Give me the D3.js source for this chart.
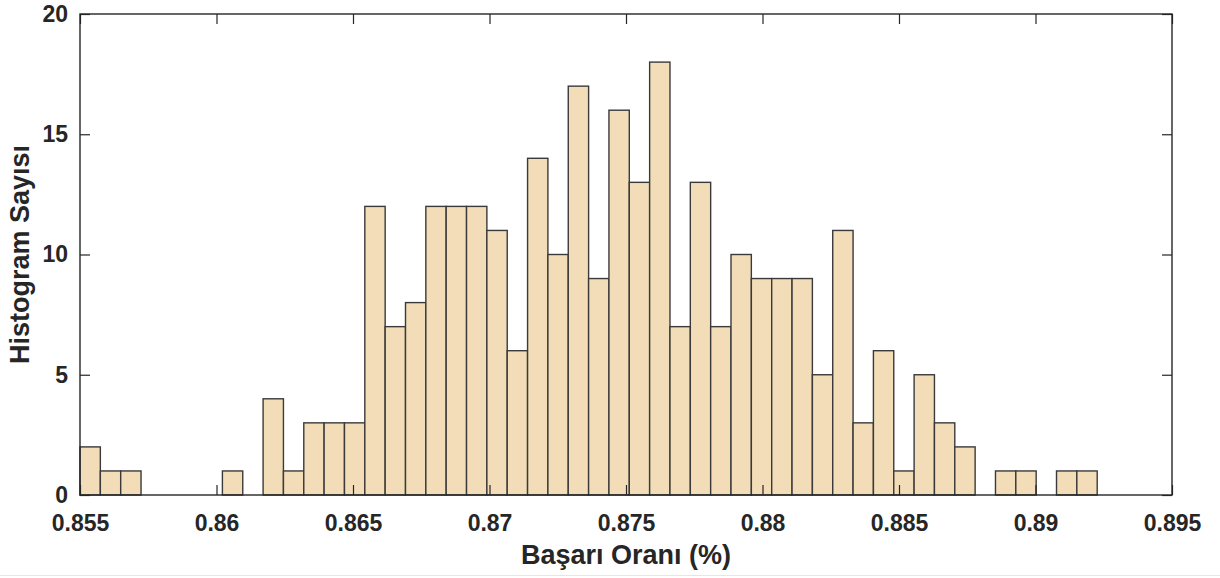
<!DOCTYPE html>
<html>
<head>
<meta charset="utf-8">
<script src="https://cdn.jsdelivr.net/npm/d3@7"></script>
<style>
  body { margin: 0; background: #fff; }
  svg text { font-family: "Liberation Sans", Arial, sans-serif; font-weight: bold; fill: #262626; }
</style>
</head>
<body>
<svg id="chart"></svg>
<script>
// histogram: 50 bins from min to max of the success rate
const binStart = 0.855
const binEnd = 0.89226
const counts = [2, 1, 1, 0, 0, 0, 0, 1, 0, 4,
                1, 3, 3, 3, 12, 7, 8, 12, 12, 12,
                11, 6, 14, 10, 17, 9, 16, 13, 18, 7,
                13, 7, 10, 9, 9, 9, 5, 11, 3, 6,
                1, 5, 3, 2, 0, 1, 1, 0, 1, 1]
const xTicks = [0.855, 0.86, 0.865, 0.87, 0.875, 0.88, 0.885, 0.89, 0.895]
const yTicks = [0, 5, 10, 15, 20]
const xTitle = "Başarı Oranı (%)"
const yTitle = "Histogram Sayısı"

var width = 1220,
    height = 578,
    pLeft = 80, pRight = 1172, pTop = 14, pBottom = 495

var svg = d3.select("#chart").attr("width", width).attr("height", height)

var x = d3.scaleLinear().domain([0.855, 0.895]).range([pLeft, pRight])
var y = d3.scaleLinear().domain([0, 20]).range([pBottom, pTop])

var binW = (binEnd - binStart) / counts.length
var bins = counts.map(function(c, i){
  return {x0: binStart + i * binW, x1: binStart + (i + 1) * binW, n: c}
})

// bars (zero bins end up as a flat line like matlab does)
svg.append("g").selectAll("rect")
  .data(bins)
  .enter().append("rect")
  .attr("x", d => x(d.x0))
  .attr("y", d => y(d.n))
  .attr("width", d => x(d.x1) - x(d.x0))
  .attr("height", d => y(0) - y(d.n))
  .attr("fill", "#f2ddb8")
  .attr("stroke", "#3a3a3a")
  .attr("stroke-width", 1.4)

// axes, ticks pointing inward
var tickLen = 10
var bottomAxis = d3.axisBottom(x).tickValues(xTicks).tickSizeInner(-tickLen).tickSizeOuter(0)
  .tickPadding(20).tickFormat(d3.format(""))
var topAxis = d3.axisTop(x).tickValues(xTicks).tickSizeInner(-tickLen).tickSizeOuter(0).tickFormat("")
var leftAxis = d3.axisLeft(y).tickValues(yTicks).tickSizeInner(-tickLen).tickSizeOuter(0).tickPadding(12)
var rightAxis = d3.axisRight(y).tickValues(yTicks).tickSizeInner(-tickLen).tickSizeOuter(0).tickFormat("")

function styleAxis(g){
  g.select(".domain").remove()
  g.selectAll("line").attr("stroke", "#262626").attr("stroke-width", 1.2)
  g.selectAll("text").style("font-size", "23px")
}

svg.append("g").attr("transform", "translate(0," + pBottom + ")").call(bottomAxis).call(styleAxis)
svg.append("g").attr("transform", "translate(0," + pTop + ")").call(topAxis).call(styleAxis)
svg.append("g").attr("transform", "translate(" + pLeft + ",0)").call(leftAxis).call(styleAxis)
svg.append("g").attr("transform", "translate(" + pRight + ",0)").call(rightAxis).call(styleAxis)

// box
svg.append("rect")
  .attr("x", pLeft).attr("y", pTop)
  .attr("width", pRight - pLeft).attr("height", pBottom - pTop)
  .attr("fill", "none").attr("stroke", "#262626").attr("stroke-width", 1.4)

// titles
svg.append("text")
  .attr("x", (pLeft + pRight) / 2).attr("y", 564)
  .attr("text-anchor", "middle")
  .style("font-size", "27px")
  .text(xTitle)

svg.append("text")
  .attr("transform", "translate(29," + (pTop + pBottom) / 2 + ") rotate(-90)")
  .attr("text-anchor", "middle")
  .style("font-size", "27px")
  .text(yTitle)

// faint figure edge at the bottom
svg.append("line")
  .attr("x1", 0).attr("x2", width).attr("y1", 575.5).attr("y2", 575.5)
  .attr("stroke", "#e6e6e6")
</script>
</body>
</html>
